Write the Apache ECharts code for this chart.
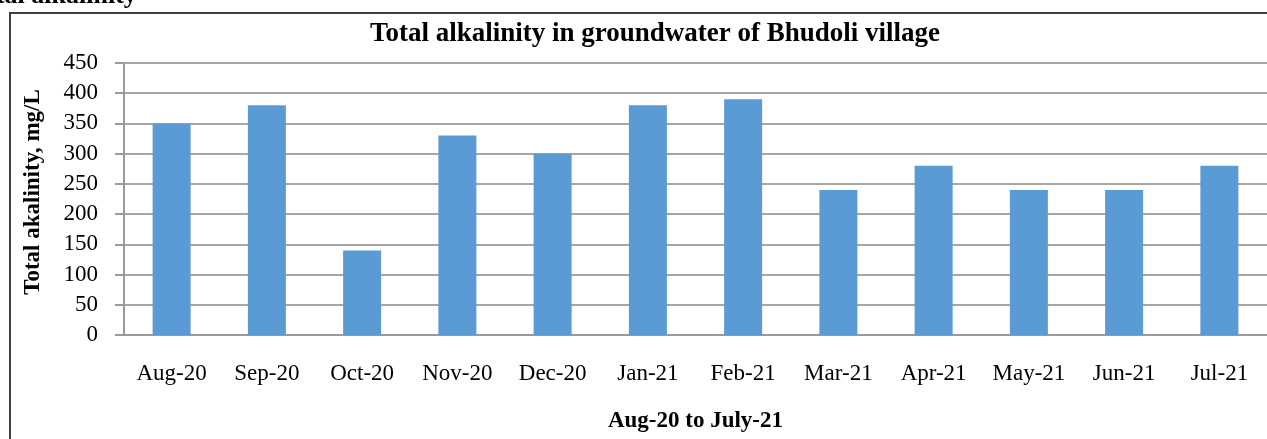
<!DOCTYPE html>
<html><head><meta charset="utf-8">
<script src="https://cdn.jsdelivr.net/npm/echarts@6/dist/echarts.min.js"></script>
<style>html,body{margin:0;padding:0;background:#fff;}#c{width:1267px;height:439px;}</style>
</head><body><div id="c"></div>
<script>
const categories = ['Aug-20','Sep-20','Oct-20','Nov-20','Dec-20','Jan-21','Feb-21','Mar-21','Apr-21','May-21','Jun-21','Jul-21'];
const alkalinity = [350, 380, 140, 330, 300, 380, 390, 240, 280, 240, 240, 280];
const yTicks = {min: 0, max: 450, interval: 50};
const serif = '"Liberation Serif","DejaVu Serif",serif';

const chart = echarts.init(document.getElementById('c'), null, {renderer: 'canvas'});
chart.setOption({
  animation: false,
  backgroundColor: '#fff',
  title: {
    text: 'Total alkalinity in groundwater of Bhudoli village',
    left: 650, top: 16, textAlign: 'center',
    textStyle: {fontFamily: serif, fontWeight: 'bold', fontSize: 27, color: '#000'}
  },
  graphic: [
    {type: 'rect', shape: {x: 10, y: 13, width: 1300, height: 480}, style: {fill: 'none', stroke: '#404040', lineWidth: 2}, z: 0},
    {type: 'text', x: -32, y: -4, style: {text: 'Total alkalinity', font: 'bold 26px ' + serif, fill: '#000', verticalAlign: 'middle'}, z: 10}
  ],
  grid: {left: 124, top: 63, width: 1158, height: 272, containLabel: false},
  xAxis: {
    type: 'category', data: categories,
    name: 'Aug-20 to July-21', nameLocation: 'middle', nameGap: 75,
    nameTextStyle: {fontFamily: serif, fontWeight: 'bold', fontSize: 23, color: '#000'},
    axisLine: {lineStyle: {color: '#9a9a9a', width: 2}},
    axisTick: {show: false},
    axisLabel: {fontFamily: serif, fontSize: 23, color: '#000', margin: 27, interval: 0}
  },
  yAxis: {
    type: 'value', min: yTicks.min, max: yTicks.max, interval: yTicks.interval,
    name: 'Total akalinity, mg/L', nameLocation: 'middle', nameGap: 79, nameRotate: 90,
    nameTextStyle: {fontFamily: serif, fontWeight: 'bold', fontSize: 23, color: '#000', padding: [0, 0, 0, 14]},
    axisLine: {show: true, lineStyle: {color: '#9a9a9a', width: 2}},
    axisTick: {show: true, length: 9, lineStyle: {color: '#9a9a9a', width: 2}},
    axisLabel: {fontFamily: serif, fontSize: 23, color: '#000', margin: 26},
    splitLine: {lineStyle: {color: '#a6a6a6', width: 2}}
  },
  series: [{
    type: 'bar', data: alkalinity, barWidth: 38,
    itemStyle: {color: '#5b9bd5'}
  }]
});
</script></body></html>
